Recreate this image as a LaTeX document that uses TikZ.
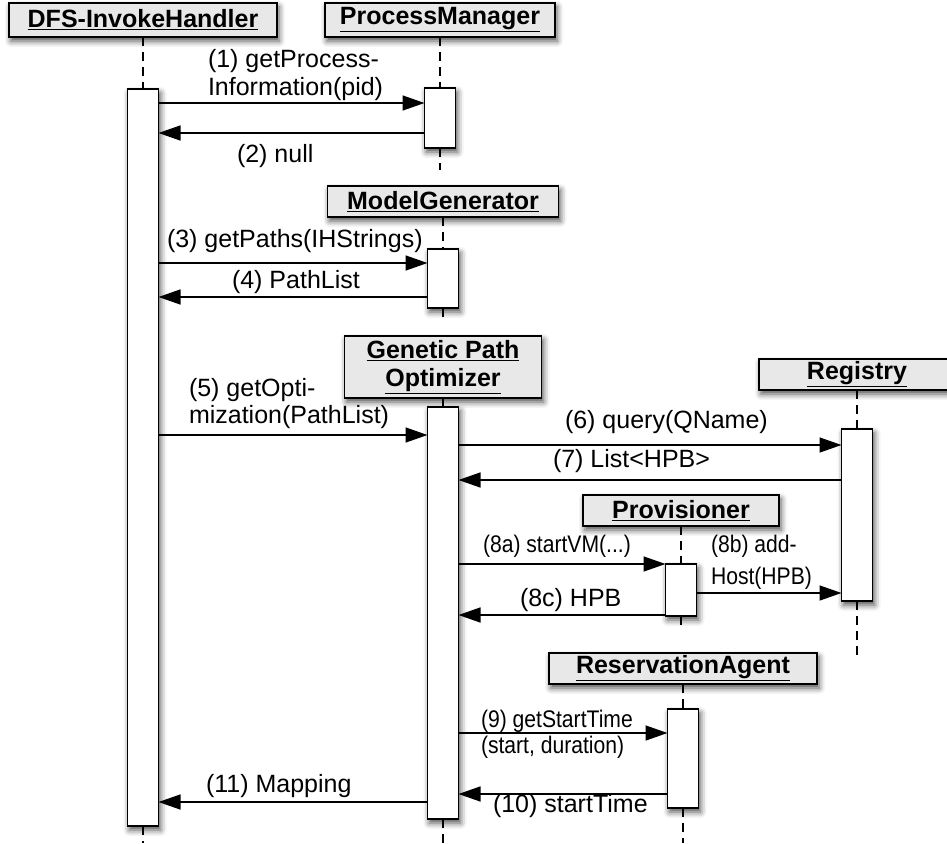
\documentclass[tikz,border=0pt]{standalone}
\usepackage{fontspec}
\setmainfont{Liberation Sans}
\newfontfamily\condfont{Liberation Sans}[FakeStretch=0.88]
\usetikzlibrary{arrows.meta,shadows.blur}
\definecolor{hdrfill}{HTML}{E8E8E8}

\begin{document}
\begin{tikzpicture}[x=1pt,y=-1pt,
  every node/.style={inner sep=0pt, outer sep=0pt},
  softshadow/.style={blur shadow={shadow xshift=2pt, shadow yshift=-4pt,
      shadow blur radius=6pt, shadow opacity=70}},
  lane/.style={draw, line width=1.6pt, fill=hdrfill, softshadow,
      font=\fontsize{25}{28}\selectfont\bfseries, align=center},
  act/.style={draw, line width=1.6pt, fill=white, anchor=north, softshadow,
      minimum width=31pt},
  life/.style={line width=1.3pt, dash pattern=on 9pt off 6pt},
  msg/.style={line width=1.5pt, -{Triangle[length=22pt,width=15pt]}},
  lbl/.style={font=\fontsize{25}{29}\selectfont, anchor=base west},
  lblsm/.style={font=\condfont\fontsize{24}{28}\selectfont, anchor=base west}]

\useasboundingbox (0,0) rectangle (947,843);

% participant headers
\node[lane, minimum width=268pt, minimum height=34pt] (hDFS) at (143,20) {\underline{DFS-InvokeHandler}};
\node[lane, minimum width=230pt, minimum height=34pt] (hPM) at (440,20) {\underline{ProcessManager}};
\node[lane, minimum width=231pt, minimum height=31pt] (hMG) at (443,201.5) {\underline{ModelGenerator}};
\node[lane, minimum width=197pt, minimum height=62pt] (hGPO) at (443,367) {\underline{Genetic Path}\\\underline{Optimizer}};
\node[lane, minimum width=196pt, minimum height=31pt] (hReg) at (857,374.5) {\underline{Registry}};
\node[lane, minimum width=196pt, minimum height=31pt] (hProv) at (681,510.5) {\underline{Provisioner}};
\node[lane, minimum width=268pt, minimum height=31pt] (hRA) at (683,668.5) {\underline{ReservationAgent}};

% activation bars
\node[act, minimum height=737pt] (aDFS) at (143,89) {};
\node[act, minimum height=60pt] (aPM) at (440,88) {};
\node[act, minimum height=59pt] (aMG) at (443,249) {};
\node[act, minimum height=412pt] (aGPO) at (443,407) {};
\node[act, minimum height=172pt] (aReg) at (857,429) {};
\node[act, minimum height=52pt] (aProv) at (681,564) {};
\node[act, minimum height=99pt] (aRA) at (683,709) {};

% lifeline ends
\coordinate (eDFS) at (143,843);
\coordinate (ePM) at (440,170);
\coordinate (eMG) at (443,322);
\coordinate (eGPO) at (443,843);
\coordinate (eReg) at (857,660);
\coordinate (eProv) at (681,630);
\coordinate (eRA) at (683,843);

\foreach \p in {DFS,PM,MG,GPO,Reg,Prov,RA}{
  \draw[life] (h\p.south) -- (a\p.north);
  \draw[life] (a\p.south) -- (e\p);
}

% message rows
\coordinate (m1) at (0,103);
\coordinate (m2) at (0,133);
\coordinate (m3) at (0,263);
\coordinate (m4) at (0,297);
\coordinate (m5) at (0,435);
\coordinate (m6) at (0,445);
\coordinate (m7) at (0,480);
\coordinate (m8a) at (0,564);
\coordinate (m8b) at (0,593);
\coordinate (m8c) at (0,615);
\coordinate (m9) at (0,733);
\coordinate (m10) at (0,794);
\coordinate (m11) at (0,802);

\draw[msg] (aDFS.east |- m1) -- (aPM.west |- m1);
\draw[msg] (aPM.west |- m2) -- (aDFS.east |- m2);
\draw[msg] (aDFS.east |- m3) -- (aMG.west |- m3);
\draw[msg] (aMG.west |- m4) -- (aDFS.east |- m4);
\draw[msg] (aDFS.east |- m5) -- (aGPO.west |- m5);
\draw[msg] (aGPO.east |- m6) -- (aReg.west |- m6);
\draw[msg] (aReg.west |- m7) -- (aGPO.east |- m7);
\draw[msg] (aGPO.east |- m8a) -- (aProv.west |- m8a);
\draw[msg] (aProv.east |- m8b) -- (aReg.west |- m8b);
\draw[msg] (aProv.west |- m8c) -- (aGPO.east |- m8c);
\draw[msg] (aGPO.east |- m9) -- (aRA.west |- m9);
\draw[msg] (aRA.west |- m10) -- (aGPO.east |- m10);
\draw[msg] (aGPO.west |- m11) -- (aDFS.east |- m11);

% message labels
\node[lbl] (t1a) at (208,67) {(1) getProcess-};
\node[lbl] (t1b) at (208,95) {Information(pid)};
\node[lbl] (t2) at (237,162) {(2) null};
\node[lbl] (t3) at (167,247) {(3) getPaths(IHStrings)};
\node[lbl] (t4) at (232,288) {(4) PathList};
\node[lbl] (t5a) at (189,396) {(5) getOpti-};
\node[lbl] (t5b) at (189,423) {mization(PathList)};
\node[lbl] (t6) at (565,428) {(6) query(QName)};
\node[lbl] (t7) at (553,467) {(7) List<HPB>};
\node[lblsm] (t8a) at (483,552) {(8a) startVM(...)};
\node[lblsm] (t8b1) at (711,552) {(8b) add-};
\node[lblsm] (t8b2) at (711,584) {Host(HPB)};
\node[lbl] (t8c) at (520,606) {(8c) HPB};
\node[lblsm] (t9a) at (481,727) {(9) getStartTime};
\node[lblsm] (t9b) at (481,753) {(start, duration)};
\node[lbl] (t10) at (493,812) {(10) startTime};
\node[lbl] (t11) at (206,792) {(11) Mapping};

\end{tikzpicture}
\end{document}
